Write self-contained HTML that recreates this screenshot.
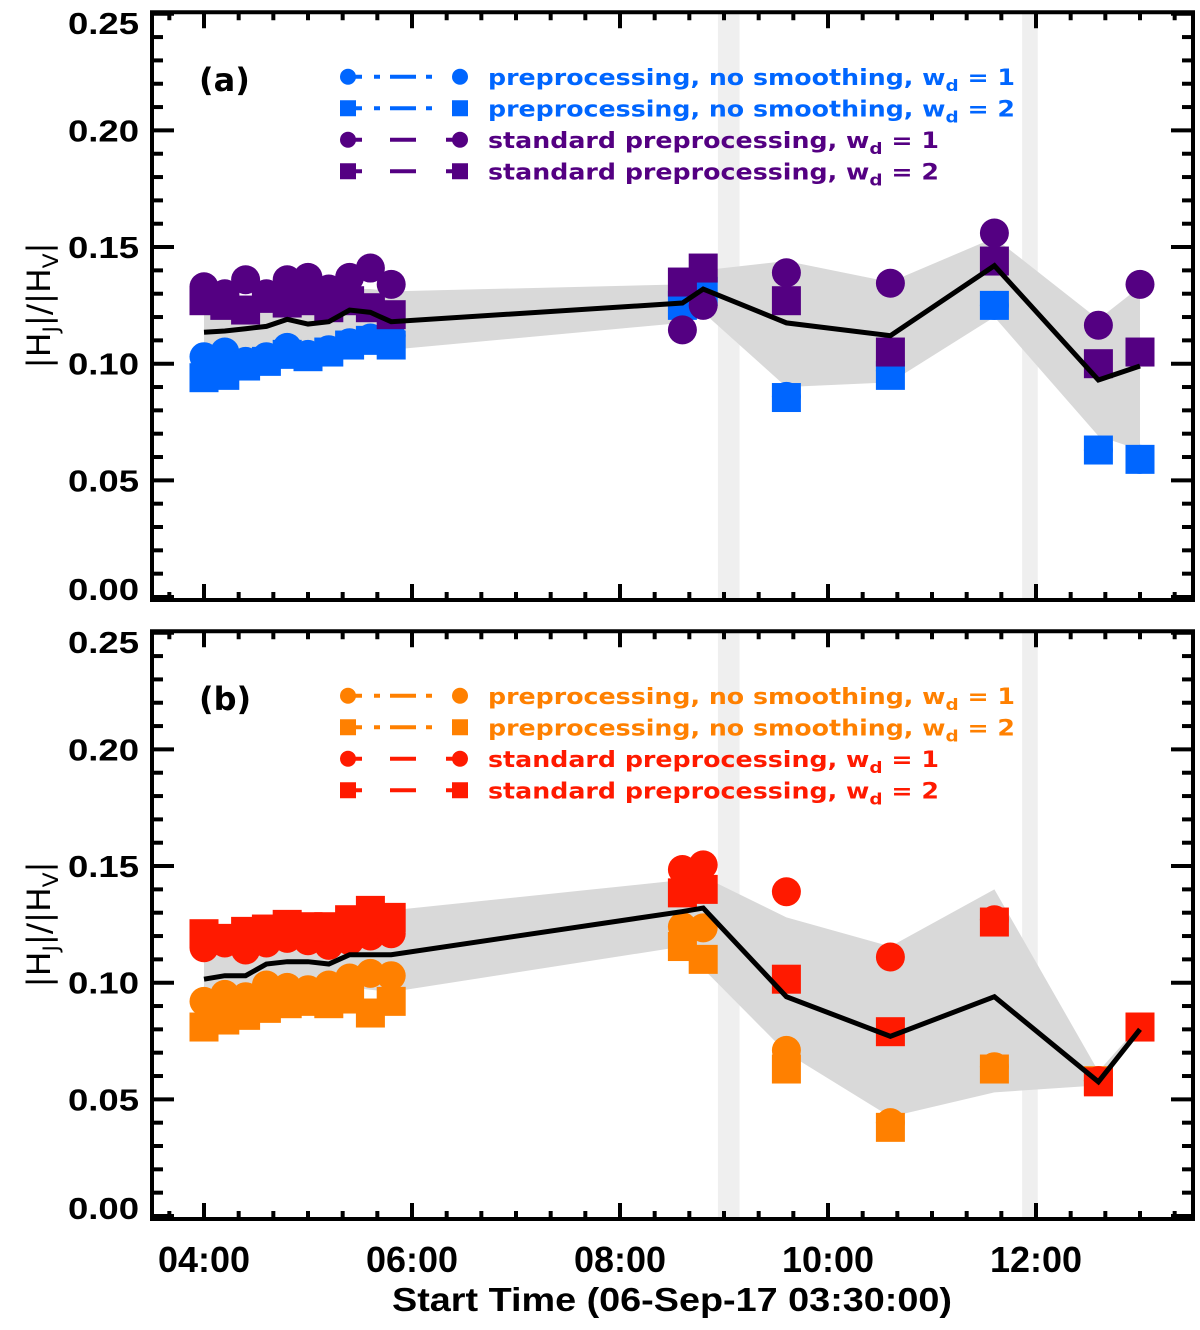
<!DOCTYPE html>
<html><head><meta charset="utf-8"><style>
html,body{margin:0;padding:0;background:#fff;}
svg{display:block;}
text{font-family:"Liberation Sans","DejaVu Sans",sans-serif;}
text.dv{font-family:"DejaVu Sans","Liberation Sans",sans-serif;}
</style></head><body>
<svg id="chart" width="1200" height="1330" viewBox="0 0 1200 1330" xmlns="http://www.w3.org/2000/svg"></svg>
<script>
// minutes since 04:00
const times = [0,12,24,36,48,60,72,84,96,108,276,288,336,396,456,516,540];
// Panel (a)
const aBlueCirc = [0.103,0.105,0.101,0.103,0.107,0.104,0.106,0.109,0.111,0.112,0.126,0.130,0.086,0.097,0.125,0.063,0.059];
const aBlueSq   = [0.094,0.095,0.099,0.101,0.104,0.103,0.105,0.108,0.110,0.108,0.125,0.131,0.0855,0.095,0.125,0.063,0.059];
const aPurCirc  = [0.133,0.130,0.136,0.130,0.136,0.137,0.132,0.137,0.141,0.134,0.1145,0.125,0.139,0.1345,0.156,0.1165,0.134];
const aPurSq    = [0.127,0.125,0.123,0.128,0.126,0.127,0.124,0.127,0.124,0.121,0.135,0.141,0.127,0.105,0.144,0.100,0.105];
const aMean     = [0.1135,0.114,0.115,0.116,0.119,0.117,0.118,0.123,0.122,0.118,0.126,0.132,0.1175,0.112,0.142,0.093,0.099];
const aBandHi   = [0.124,0.125,0.126,0.127,0.129,0.128,0.129,0.132,0.132,0.131,0.134,0.140,0.144,0.135,0.154,0.119,0.133];
const aBandLo   = [0.104,0.104,0.105,0.106,0.108,0.107,0.108,0.110,0.109,0.106,0.1175,0.122,0.090,0.092,0.120,0.069,0.063];
// Panel (b)
const bOrgCirc  = [0.092,0.095,0.094,0.099,0.098,0.097,0.099,0.102,0.104,0.103,0.124,0.1235,0.071,0.040,0.064,0.058,0.081];
const bOrgSq    = [0.081,0.084,0.086,0.089,0.091,0.092,0.091,0.093,0.087,0.092,0.1155,0.110,0.063,0.038,0.063,0.058,0.081];
const bRedCirc  = [0.115,0.117,0.114,0.117,0.119,0.118,0.116,0.118,0.120,0.121,0.1485,0.1505,0.139,0.111,0.127,0.058,0.081];
const bRedSq    = [0.121,0.119,0.122,0.123,0.125,0.124,0.124,0.127,0.131,0.128,0.1385,0.140,0.1015,0.079,0.126,0.0575,0.081];
const bMean     = [0.1015,0.103,0.103,0.108,0.109,0.109,0.108,0.112,0.112,0.112,0.1305,0.132,0.094,0.077,0.094,0.0575,0.080];
const bBandHi   = [0.112,0.114,0.115,0.120,0.122,0.122,0.122,0.126,0.128,0.131,0.144,0.1455,0.128,0.1155,0.140,0.062,0.082];
const bBandLo   = [0.091,0.092,0.092,0.096,0.097,0.097,0.096,0.098,0.097,0.096,0.1155,0.106,0.070,0.0425,0.053,0.056,0.080];
const yTicks = [0,0.05,0.10,0.15,0.20,0.25];
const yTickLabels = ["0.00","0.05","0.10","0.15","0.20","0.25"];
const xTicks = [0,120,240,360,480];
const xTickLabels = ["04:00","06:00","08:00","10:00","12:00"];
const gapTimes = [[296.5,309],[472,481]];

const NS="http://www.w3.org/2000/svg";
const svg=document.getElementById('chart');
function mk(tag,attrs,parent){const e=document.createElementNS(NS,tag);for(const k in attrs)e.setAttribute(k,attrs[k]);(parent||svg).appendChild(e);return e;}
const X0=152,X1=1193;
function xs(t){return 204+t*104/60;}

function panel(cfg){
  const g=mk('g',{});
  
  
  const ys=v=>cfg.y0 - v*2333;
  const top=cfg.y0-0.25*2333-1.5, bot=cfg.y0+3;
  let pts=times.map((t,i)=>xs(t)+','+ys(cfg.hi[i])).concat(times.map((t,i)=>xs(t)+','+ys(cfg.lo[i])).reverse());
  gapTimes.forEach(gt=>{
    const r=mk('rect',{x:xs(gt[0]),y:top,width:xs(gt[1])-xs(gt[0]),height:bot-top,fill:'#efefef'},g);
    
    
  });
  const band=mk('polygon',{points:pts.join(' '),fill:'#d9d9d9'},g);
  
  
  cfg.series.forEach(s=>{
    const sg=mk('g',{fill:s.color},g);
    
    
    times.forEach((t,i)=>{
      const cx=xs(t),cy=ys(s.vals[i]);
      let m;
      if(s.shape==='c') m=mk('circle',{cx:cx,cy:cy,r:14.5},sg);
      else m=mk('rect',{x:cx-14.5,y:cy-14.5,width:29,height:29},sg);
      
      
    });
  });
  const ln=mk('polyline',{points:times.map((t,i)=>xs(t)+','+ys(cfg.mean[i])).join(' '),fill:'none',stroke:'#000','stroke-width':5,'stroke-linejoin':'miter'},g);
  
  
  const fr=mk('rect',{x:X0,y:top,width:X1-X0,height:bot-top,fill:'none',stroke:'#000','stroke-width':4},g);
  
  
  for(let k=0;k<=25;k++){
    const v=k/100,y=ys(v),maj=k%5===0,L=maj?22:11;
    mk('line',{x1:X0,x2:X0+L,y1:y,y2:y,stroke:'#000','stroke-width':4},g);
    mk('line',{x1:X1,x2:X1-L,y1:y,y2:y,stroke:'#000','stroke-width':4},g);
  }
  yTicks.forEach((v,i)=>{
    let by=ys(v)+11; if(i===yTicks.length-1) by=ys(v)+20; if(i===0) by=ys(v)+3;
    const t=mk('text',{x:139,y:by,'text-anchor':'end','font-size':31,'font-weight':'bold',textLength:71,lengthAdjust:'spacingAndGlyphs'},g);
    t.textContent=yTickLabels[i];
    
    
  });
  for(let m=-20;m<=560;m+=20){
    const x=xs(m); if(x<=X0+2||x>=X1-2) continue;
    const maj=m%120===0,L=maj?16:8;
    mk('line',{x1:x,x2:x,y1:bot,y2:bot-L,stroke:'#000','stroke-width':4},g);
    mk('line',{x1:x,x2:x,y1:top,y2:top+L,stroke:'#000','stroke-width':4},g);
  }
  const yt=mk('text',{class:'dv',transform:`translate(50,${cfg.y0-0.125*2333}) rotate(-90)`,'text-anchor':'middle','font-size':32,textLength:126,lengthAdjust:'spacingAndGlyphs'},g);
  yt.innerHTML='|H<tspan font-size="21" dy="8">J</tspan><tspan dy="-8">|/|H</tspan><tspan font-size="21" dy="8">V</tspan><tspan dy="-8">|</tspan>';
  
  
  const pl=mk('text',{class:'dv',x:199,y:cfg.y0-0.25*2333+77,'font-size':32,'font-weight':'bold'},g);
  pl.textContent=cfg.label;
  
  
  const lg=mk('g',{},g);
  
  
  cfg.series.forEach((s,i)=>{
    const y=cfg.y0-0.25*2333+63+i*31.5;
    const eg=mk('g',{fill:s.color,stroke:s.color},lg);
    
    
    mk('line',{x1:348,x2:460,y1:y,y2:y,'stroke-width':4,'stroke-dasharray':s.dash},eg);
    if(s.shape==='c'){mk('circle',{cx:348,cy:y,r:8,stroke:'none'},eg);mk('circle',{cx:460,cy:y,r:8,stroke:'none'},eg);}
    else{mk('rect',{x:340,y:y-8,width:16,height:16,stroke:'none'},eg);mk('rect',{x:452,y:y-8,width:16,height:16,stroke:'none'},eg);}
    const t=mk('text',{class:'dv',x:488,y:y+8,'font-size':22,'font-weight':'bold',stroke:'none',textLength:s.tl,lengthAdjust:'spacingAndGlyphs'},eg);
    t.innerHTML=s.label+'w<tspan font-size="16" dy="6">d</tspan><tspan dy="-6"> = '+s.wd+'</tspan>';
  });
}
panel({name:'panel-a',y0:597,label:'(a)',mean:aMean,hi:aBandHi,lo:aBandLo,series:[
  {name:'series-blue-circles',shape:'c',color:'#0066ff',vals:aBlueCirc,label:'preprocessing, no smoothing, ',wd:1,dash:'14 12 6 10 26 10 6 100',tl:527},
  {name:'series-blue-squares',shape:'s',color:'#0066ff',vals:aBlueSq,label:'preprocessing, no smoothing, ',wd:2,dash:'14 12 6 10 26 10 6 100',tl:527},
  {name:'series-purple-circles',shape:'c',color:'#540082',vals:aPurCirc,label:'standard preprocessing, ',wd:1,dash:'14 28 26 30 100',tl:451},
  {name:'series-purple-squares',shape:'s',color:'#540082',vals:aPurSq,label:'standard preprocessing, ',wd:2,dash:'14 28 26 30 100',tl:451}]});
panel({name:'panel-b',y0:1216,label:'(b)',mean:bMean,hi:bBandHi,lo:bBandLo,series:[
  {name:'series-orange-circles',shape:'c',color:'#ff8000',vals:bOrgCirc,label:'preprocessing, no smoothing, ',wd:1,dash:'14 12 6 10 26 10 6 100',tl:527},
  {name:'series-orange-squares',shape:'s',color:'#ff8000',vals:bOrgSq,label:'preprocessing, no smoothing, ',wd:2,dash:'14 12 6 10 26 10 6 100',tl:527},
  {name:'series-red-circles',shape:'c',color:'#ff1a00',vals:bRedCirc,label:'standard preprocessing, ',wd:1,dash:'14 28 26 30 100',tl:451},
  {name:'series-red-squares',shape:'s',color:'#ff1a00',vals:bRedSq,label:'standard preprocessing, ',wd:2,dash:'14 28 26 30 100',tl:451}]});
xTicks.forEach((m,i)=>{
  const t=mk('text',{x:xs(m),y:1272,'text-anchor':'middle','font-size':36,'font-weight':'bold',textLength:92,lengthAdjust:'spacingAndGlyphs'});
  t.textContent=xTickLabels[i];
  
  
});
const xt=mk('text',{x:672,y:1311,'text-anchor':'middle','font-size':33,'font-weight':'bold',textLength:560,lengthAdjust:'spacingAndGlyphs'});
xt.textContent='Start Time (06-Sep-17 03:30:00)';


</script>
</body></html>
